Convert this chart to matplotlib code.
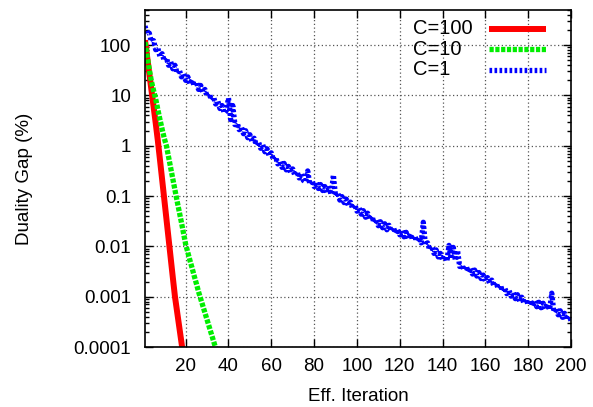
import matplotlib
matplotlib.use("Agg")
import matplotlib.pyplot as plt
import numpy as np

plt.rcParams['font.family'] = ['Liberation Sans', 'DejaVu Sans']

# duality gap readings, stored as log10 of the percentage
iters_c100 = list(range(1, 20))
gap_c100 = [2.10, 1.77, 1.44, 1.11, 0.78, 0.45, 0.10, -0.28, -0.67, -1.06,
            -1.45, -1.84, -2.23, -2.62, -3.00, -3.30, -3.60, -3.90, -4.20]

iters_c10 = list(range(1, 35))
gap_c10 = [2.06, 1.78, 1.52, 1.28, 1.10, 0.93, 0.72, 0.52, 0.33, 0.15,
           0.00, -0.22, -0.44, -0.66, -0.88, -1.10, -1.31, -1.52, -1.74, -1.96,
           -2.12, -2.28, -2.43, -2.59, -2.74, -2.90, -3.04, -3.18, -3.32, -3.46,
           -3.60, -3.74, -3.88, -4.02]

iters_c1 = list(range(1, 201))
gap_c1 = [
    2.38, 2.22, 2.24, 2.06, 2.09, 1.91, 1.94, 1.77, 1.83, 1.69,
    1.75, 1.60, 1.67, 1.53, 1.60, 1.44, 1.51, 1.37, 1.43, 1.30,
    1.37, 1.23, 1.31, 1.19, 1.27, 1.12, 1.20, 1.06, 1.12, 0.98,
    1.04, 0.91, 0.97, 0.83, 0.89, 0.74, 0.80, 0.65, 0.70, 0.95,
    0.52, 0.80, 0.42, 0.46, 0.32, 0.38, 0.24, 0.30, 0.16, 0.22,
    0.08, 0.15, 0.01, 0.08, -0.05, 0.02, -0.12, -0.06, -0.20, -0.14,
    -0.28, -0.22, -0.36, -0.30, -0.43, -0.35, -0.48, -0.41, -0.53, -0.46,
    -0.59, -0.51, -0.64, -0.56, -0.69, -0.72, -0.50, -0.77, -0.69, -0.81,
    -0.73, -0.85, -0.77, -0.89, -0.81, -0.93, -0.85, -0.97, -0.58, -1.00,
    -0.93, -1.08, -1.01, -1.13, -1.06, -1.19, -1.12, -1.25, -1.17, -1.30,
    -1.23, -1.36, -1.29, -1.42, -1.34, -1.47, -1.40, -1.53, -1.46, -1.59,
    -1.51, -1.63, -1.55, -1.67, -1.58, -1.70, -1.62, -1.74, -1.66, -1.77,
    -1.69, -1.81, -1.72, -1.84, -1.75, -1.87, -1.79, -1.90, -1.82, -1.93,
    -1.52, -1.98, -1.93, -2.07, -2.00, -2.14, -2.07, -2.21, -2.14, -2.27,
    -2.19, -2.30, -1.98, -2.25, -2.02, -2.28, -2.08, -2.40, -2.36, -2.47,
    -2.39, -2.51, -2.43, -2.55, -2.47, -2.59, -2.52, -2.64, -2.57, -2.69,
    -2.62, -2.74, -2.67, -2.79, -2.72, -2.84, -2.77, -2.89, -2.82, -2.94,
    -2.87, -2.99, -2.92, -3.04, -2.96, -3.09, -3.01, -3.13, -3.05, -3.16,
    -3.07, -3.18, -3.09, -3.20, -3.11, -3.22, -3.13, -3.24, -3.15, -3.26,
    -2.93, -3.31, -3.23, -3.36, -3.28, -3.41, -3.33, -3.46, -3.39, -3.47,
]

labels = ["C=100", "C=10", "C=1"]
x_ticks = [20, 40, 60, 80, 100, 120, 140, 160, 180, 200]
y_ticks = [1e-4, 1e-3, 1e-2, 1e-1, 1, 10, 100]
y_tick_labels = ["0.0001", "0.001", "0.01", "0.1", "1", "10", "100"]

fig = plt.figure(figsize=(5.93, 4.07), dpi=100)
ax = fig.add_axes([145 / 593, 1 - 347 / 407, 426 / 593, 337 / 407])

styles = [
    dict(color="#ff0000", lw=4.3, ls="-"),
    dict(color="#00ee00", lw=3.8, ls=(0, (0.8, 0.3))),
    dict(color="#0000ff", lw=3.8, ls=(0, (0.5, 0.45))),
]
series = [(iters_c100, gap_c100), (iters_c10, gap_c10), (iters_c1, gap_c1)]
for (xs, ys), st in zip(series, styles):
    ax.plot(xs, 10 ** np.array(ys), solid_capstyle="butt",
            dash_capstyle="butt", **st)

ax.set_yscale("log")
ax.set_xlim(1, 200)
ax.set_ylim(1e-4, 500)
ax.set_xticks(x_ticks)
ax.set_xticklabels([str(v) for v in x_ticks])
ax.set_yticks(y_ticks)
ax.set_yticklabels(y_tick_labels)
ax.yaxis.set_minor_locator(matplotlib.ticker.LogLocator(base=10, subs=np.arange(2, 10)))
ax.yaxis.set_minor_formatter(matplotlib.ticker.NullFormatter())

ax.tick_params(which="both", direction="in", top=True, right=True, width=1)
ax.tick_params(which="major", length=6, labelsize=13.5)
ax.tick_params(which="minor", length=3)
ax.tick_params(axis="y", pad=10)
ax.tick_params(axis="x", pad=8)
ax.grid(True, which="major", ls=(0, (1, 2)), color="#555555", lw=0.9)
for sp in ax.spines.values():
    sp.set_linewidth(1.2)

ax.set_xlabel("Eff. Iteration", fontsize=13.5, labelpad=9)
ax.set_ylabel("Duality Gap (%)", fontsize=13.5, labelpad=29)

# gnuplot style key: left-aligned labels followed by line samples
key_rows = [0.945, 0.883, 0.822]
for lab, st, yy in zip(labels, styles, key_rows):
    ax.text(0.629, yy, lab, transform=ax.transAxes, fontsize=14.5,
            va="center", ha="left")
    ax.plot([0.808, 0.941], [yy, yy], transform=ax.transAxes,
            solid_capstyle="butt", dash_capstyle="butt", **st)

fig.savefig("out.png", dpi=100)
